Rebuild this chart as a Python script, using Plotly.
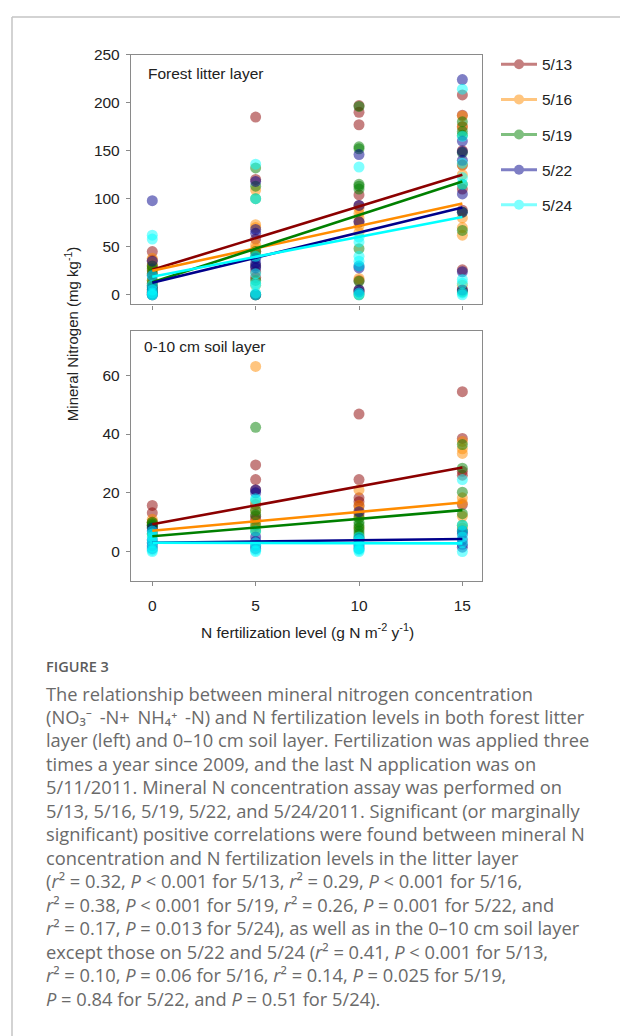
import plotly.graph_objects as go

# ---------------- data ----------------
levels = [0, 5, 10, 15]
dates = ["5/13", "5/16", "5/19", "5/22", "5/24"]

# Forest litter layer: values per fertilization level (0, 5, 10, 15)
litter_0513 = [[45, 36, 30, 25, 12, 8, 3, 0], [185, 120, 58, 45, 24, 18, 0],
               [197, 190, 177, 104, 93, 76, 15, 5], [208, 187, 175, 150, 135, 110, 88, 26, 5]]
litter_0516 = [[38, 32, 28, 22, 15, 5, 2], [109, 73, 70, 52, 48, 30, 10],
               [90, 85, 80, 72, 65, 17, 3], [186, 175, 135, 125, 80, 70, 62, 10]]
litter_0519 = [[30, 27, 22, 15, 10, 6, 2], [132, 113, 100, 45, 40, 15, 0],
               [196, 154, 152, 115, 113, 110, 48, 14, 0], [180, 170, 166, 148, 115, 86, 67, 3]]
litter_0522 = [[98, 35, 20, 8, 5, 3, 1, 0], [118, 68, 64, 38, 33, 30, 28, 0],
               [146, 93, 76, 30, 28, 5, 3], [224, 160, 149, 140, 105, 86, 24, 5]]
litter_0524 = [[62, 58, 20, 10, 5, 2, 0, 0], [136, 100, 40, 22, 12, 10, 2, 0],
               [133, 60, 55, 40, 35, 30, 2, 0], [214, 165, 137, 122, 115, 16, 12, 2, 0]]

# 0-10 cm soil layer
soil_0513 = [[15.7, 13.2, 10, 9, 8], [29.5, 24.5, 21, 16, 12, 11],
             [46.8, 24.5, 18.3, 17, 15.5, 13], [54.4, 38.5, 27.3, 26, 16]]
soil_0516 = [[11, 10, 9.5, 8, 6], [63, 17, 14, 10, 8],
             [21, 15.7, 14, 12, 8], [37.5, 35, 33.4, 18.3, 16.6, 12, 8]]
soil_0519 = [[10, 9.5, 9, 8.5, 6], [42.3, 14, 12.5, 9, 7],
             [11.5, 10, 9, 8, 7, 6, 5], [36.4, 28.4, 20.2, 12.9, 9, 7]]
soil_0522 = [[8, 7, 4, 3, 2, 1], [21, 20, 5, 3.5, 2, 1],
             [13.6, 4.5, 3, 2, 1], [7, 6, 4, 2.5, 1.5]]
soil_0524 = [[7, 6, 5, 4, 3, 1.5, 0.5, 0], [18, 17.5, 7, 3, 2, 0.5, 0],
             [5, 4, 3, 2, 1, 0.5, 0], [24.5, 9, 7, 5, 3, 0]]

# fitted regression lines: value at level 0 and at level 15
fit_x = [0, 15]
litter_fit_start = [26, 25, 13, 12.6, 18.8]
litter_fit_end = [125, 95, 118, 90.8, 81]
soil_fit_start = [9.3, 7.1, 5.2, 3.0, 3.0]
soil_fit_end = [28.6, 16.7, 14.1, 4.3, 2.8]

litter_ticks = [0, 50, 100, 150, 200, 250]
soil_ticks = [0, 20, 40, 60]
x_ticks = [0, 5, 10, 15]

# ---------------- style ----------------
colors = ["#8B0000", "#FF8C00", "#008000", "#00008B", "#00FFFF"]
W, H = 620, 1036
FONT = "Liberation Sans, Arial, sans-serif"
CAP_FONT = "Open Sans, Noto Sans, DejaVu Sans, sans-serif"
FS = 15.5
CAP_COLOR = "#6a6a6a"


def px(x):
    return x / W


def py(y):
    return 1 - y / H


litter = [litter_0513, litter_0516, litter_0519, litter_0522, litter_0524]
soil = [soil_0513, soil_0516, soil_0519, soil_0522, soil_0524]

fig = go.Figure()


def add_points(data, xa, ya):
    for i, series in enumerate(data):
        xs, ys = [], []
        for lv, vals in zip(levels, series):
            xs += [lv] * len(vals)
            ys += vals
        fig.add_trace(go.Scatter(x=xs, y=ys, mode="markers", xaxis=xa, yaxis=ya,
                                 marker=dict(size=11, color=colors[i], opacity=0.5,
                                             line=dict(width=0)),
                                 showlegend=False, hoverinfo="x+y"))


def add_lines(starts, ends, xa, ya):
    for i in range(len(dates)):
        fig.add_trace(go.Scatter(x=fit_x, y=[starts[i], ends[i]], mode="lines",
                                 xaxis=xa, yaxis=ya,
                                 line=dict(color=colors[i], width=2.6),
                                 showlegend=False, hoverinfo="skip"))


add_points(litter, "x", "y")
add_points(soil, "x2", "y2")
add_lines(litter_fit_start, litter_fit_end, "x", "y")
add_lines(soil_fit_start, soil_fit_end, "x2", "y2")

# legend entries
for i, d in enumerate(dates):
    fig.add_trace(go.Scatter(x=[None], y=[None], mode="lines+markers", name=d,
                             legendgroup=d, opacity=0.5,
                             line=dict(color=colors[i], width=3),
                             marker=dict(color=colors[i], size=10)))

axis_common = dict(showline=True, linecolor="#8a8a8a", linewidth=1.3, mirror=True,
                   ticks="outside", ticklen=4, tickcolor="#8a8a8a", tickwidth=1.2,
                   showgrid=False, zeroline=False,
                   tickfont=dict(family=FONT, size=FS, color="#222"))

xdom = [px(131), px(482)]
fig.update_layout(
    width=W, height=H, autosize=False,
    margin=dict(l=0, r=0, t=0, b=0),
    paper_bgcolor="white", plot_bgcolor="white",
    font=dict(family=FONT, color="#222"),
    xaxis=dict(domain=xdom, range=[-1.03, 15.95], tickvals=x_ticks,
               showticklabels=False, anchor="y", **axis_common),
    yaxis=dict(domain=[py(298), py(46)], range=[-10, 250], tickvals=litter_ticks,
               anchor="x", ticklabelstandoff=3, **axis_common),
    xaxis2=dict(domain=xdom, range=[-1.03, 15.95], tickvals=x_ticks,
                anchor="y2", ticklabelstandoff=6, **axis_common),
    yaxis2=dict(domain=[py(577), py(325)], range=[-10, 75], tickvals=soil_ticks,
                anchor="x2", ticklabelstandoff=3, **axis_common),
    showlegend=True,
    legend=dict(x=px(496), y=py(39), xanchor="left", yanchor="top",
                traceorder="grouped", tracegroupgap=12, itemwidth=36,
                font=dict(family=FONT, size=FS, color="#222"),
                bgcolor="rgba(0,0,0,0)"),
)

ann = [
    dict(text="Forest litter layer", x=px(146), y=py(65), xanchor="left", yanchor="middle",
         font=dict(family=FONT, size=FS, color="#222")),
    dict(text="0-10 cm soil layer", x=px(142), y=py(340), xanchor="left", yanchor="middle",
         font=dict(family=FONT, size=FS, color="#222")),
    dict(text="N fertilization level (g N m<sup>-2</sup> y<sup>-1</sup>)", x=px(307), y=py(627),
         xanchor="center", yanchor="middle", font=dict(family=FONT, size=FS, color="#222")),
    dict(text="Mineral Nitrogen (mg kg<sup>-1</sup>)", x=px(71), y=py(328), textangle=-90,
         xanchor="center", yanchor="middle", font=dict(family=FONT, size=15, color="#222")),
    dict(text="FIGURE 3", x=px(44), y=py(663), xanchor="left", yanchor="middle",
         font=dict(family=CAP_FONT, size=14.5, color="#5c5c5c", weight=600)),
]

caption = [
    "The relationship between mineral nitrogen concentration",
    "(NO\u2083\u207b\u2009 -N+\u2009 NH\u2084\u207a\u2009 -N) and N fertilization levels in both forest litter",
    "layer (left) and 0\u201310 cm soil layer. Fertilization was applied three",
    "times a year since 2009, and the last N application was on",
    "5/11/2011. Mineral N concentration assay was performed on",
    "5/13, 5/16, 5/19, 5/22, and 5/24/2011. Significant (or marginally",
    "significant) positive correlations were found between mineral N",
    "concentration and N fertilization levels in the litter layer",
    "(<i>r</i>\u00b2 = 0.32, <i>P</i> &lt; 0.001 for 5/13, <i>r</i>\u00b2 = 0.29, <i>P</i> &lt; 0.001 for 5/16,",
    "<i>r</i>\u00b2 = 0.38, <i>P</i> &lt; 0.001 for 5/19, <i>r</i>\u00b2 = 0.26, <i>P</i> = 0.001 for 5/22, and",
    "<i>r</i>\u00b2 = 0.17, <i>P</i> = 0.013 for 5/24), as well as in the 0\u201310 cm soil layer",
    "except those on 5/22 and 5/24 (<i>r</i>\u00b2 = 0.41, <i>P</i> &lt; 0.001 for 5/13,",
    "<i>r</i>\u00b2 = 0.10, <i>P</i> = 0.06 for 5/16, <i>r</i>\u00b2 = 0.14, <i>P</i> = 0.025 for 5/19,",
    "<i>P</i> = 0.84 for 5/22, and <i>P</i> = 0.51 for 5/24).",
]
for k, line in enumerate(caption):
    ann.append(dict(text=line, x=px(44), y=py(690 + 23.7 * k), xanchor="left",
                    yanchor="middle", font=dict(family=CAP_FONT, size=18.3, color=CAP_COLOR)))

for a in ann:
    a.update(xref="paper", yref="paper", showarrow=False)
fig.update_layout(annotations=ann)

# page frame lines
fig.update_layout(shapes=[
    dict(type="line", xref="paper", yref="paper", x0=px(12), x1=1, y0=py(8), y1=py(8),
         line=dict(color="#c4c4c4", width=1.5)),
    dict(type="line", xref="paper", yref="paper", x0=px(12), x1=px(12), y0=py(8), y1=0,
         line=dict(color="#c4c4c4", width=1.5)),
])

fig.write_html("out.html", post_script="document.body.style.margin='0';",
               config={"displayModeBar": False})
